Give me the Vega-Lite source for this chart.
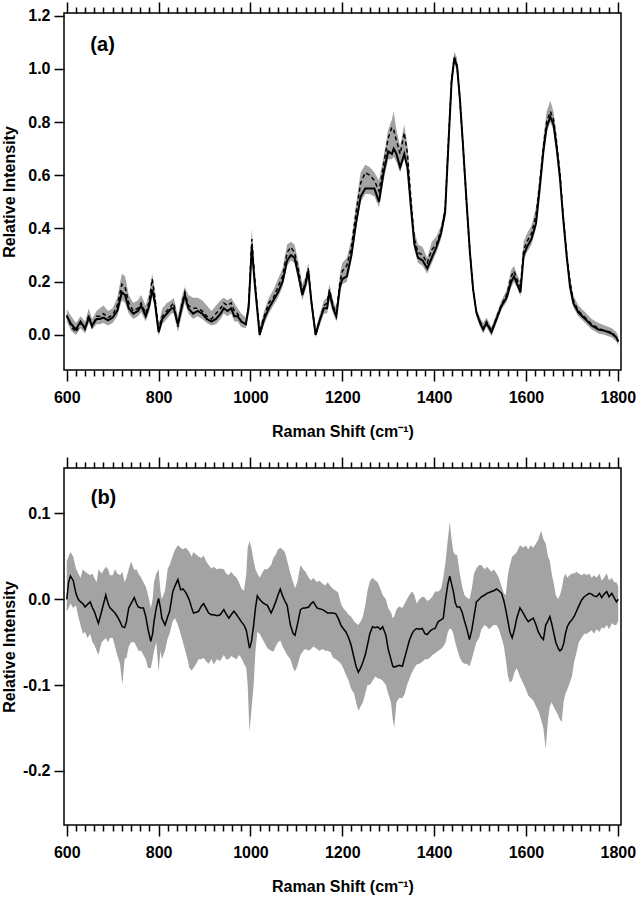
{
  "$schema": "https://vega.github.io/schema/vega-lite/v6.json",
  "padding": {"left": 0, "top": 0, "right": 1, "bottom": 5},
  "bounds": "flush",
  "spacing": 98,
  "config": {
    "font": "Liberation Sans",
    "view": {"stroke": "black", "strokeWidth": 1.5},
    "axis": {
      "labelFont": "Liberation Sans", "labelFontSize": 16, "labelFontWeight": "bold", "labelColor": "black",
      "titleFont": "Liberation Sans", "titleFontSize": 16, "titleFontWeight": "bold", "titleColor": "black",
      "domain": false, "grid": false, "tickColor": "black", "tickWidth": 1.5
    }
  },
  "datasets": {
    "a": [
      {"x":600,"s":0.07,"d":0.075,"lo":0.05,"hi":0.095},
      {"x":610,"s":0.04,"d":0.03,"lo":0.015,"hi":0.07},
      {"x":620,"s":0.02,"d":0.01,"lo":0.0,"hi":0.045},
      {"x":630,"s":0.05,"d":0.045,"lo":0.025,"hi":0.07},
      {"x":640,"s":0.025,"d":0.02,"lo":0.005,"hi":0.05},
      {"x":648,"s":0.065,"d":0.075,"lo":0.045,"hi":0.1},
      {"x":655,"s":0.035,"d":0.03,"lo":0.02,"hi":0.06},
      {"x":665,"s":0.06,"d":0.07,"lo":0.04,"hi":0.09},
      {"x":672,"s":0.06,"d":0.07,"lo":0.04,"hi":0.1},
      {"x":680,"s":0.065,"d":0.08,"lo":0.045,"hi":0.11},
      {"x":690,"s":0.055,"d":0.065,"lo":0.035,"hi":0.09},
      {"x":700,"s":0.065,"d":0.075,"lo":0.045,"hi":0.1},
      {"x":710,"s":0.09,"d":0.11,"lo":0.07,"hi":0.14},
      {"x":720,"s":0.16,"d":0.19,"lo":0.13,"hi":0.23},
      {"x":727,"s":0.15,"d":0.18,"lo":0.12,"hi":0.22},
      {"x":735,"s":0.1,"d":0.12,"lo":0.08,"hi":0.15},
      {"x":745,"s":0.08,"d":0.09,"lo":0.06,"hi":0.12},
      {"x":755,"s":0.09,"d":0.1,"lo":0.07,"hi":0.13},
      {"x":762,"s":0.11,"d":0.12,"lo":0.085,"hi":0.15},
      {"x":772,"s":0.07,"d":0.08,"lo":0.05,"hi":0.11},
      {"x":780,"s":0.11,"d":0.13,"lo":0.09,"hi":0.16},
      {"x":786,"s":0.17,"d":0.21,"lo":0.15,"hi":0.23},
      {"x":792,"s":0.12,"d":0.14,"lo":0.1,"hi":0.17},
      {"x":800,"s":0.01,"d":0.02,"lo":-0.005,"hi":0.04},
      {"x":808,"s":0.06,"d":0.07,"lo":0.04,"hi":0.1},
      {"x":818,"s":0.08,"d":0.09,"lo":0.06,"hi":0.12},
      {"x":828,"s":0.1,"d":0.11,"lo":0.08,"hi":0.13},
      {"x":833,"s":0.1,"d":0.12,"lo":0.08,"hi":0.14},
      {"x":842,"s":0.04,"d":0.03,"lo":0.01,"hi":0.07},
      {"x":850,"s":0.1,"d":0.11,"lo":0.07,"hi":0.14},
      {"x":857,"s":0.15,"d":0.16,"lo":0.12,"hi":0.18},
      {"x":865,"s":0.1,"d":0.11,"lo":0.08,"hi":0.15},
      {"x":875,"s":0.08,"d":0.1,"lo":0.06,"hi":0.14},
      {"x":885,"s":0.09,"d":0.1,"lo":0.07,"hi":0.14},
      {"x":895,"s":0.08,"d":0.09,"lo":0.06,"hi":0.13},
      {"x":905,"s":0.06,"d":0.07,"lo":0.045,"hi":0.11},
      {"x":915,"s":0.05,"d":0.06,"lo":0.035,"hi":0.09},
      {"x":925,"s":0.06,"d":0.08,"lo":0.04,"hi":0.11},
      {"x":935,"s":0.08,"d":0.1,"lo":0.06,"hi":0.13},
      {"x":942,"s":0.1,"d":0.12,"lo":0.08,"hi":0.14},
      {"x":950,"s":0.09,"d":0.11,"lo":0.07,"hi":0.13},
      {"x":958,"s":0.1,"d":0.12,"lo":0.08,"hi":0.14},
      {"x":965,"s":0.07,"d":0.09,"lo":0.05,"hi":0.12},
      {"x":972,"s":0.07,"d":0.08,"lo":0.05,"hi":0.1},
      {"x":980,"s":0.05,"d":0.05,"lo":0.03,"hi":0.08},
      {"x":990,"s":0.04,"d":0.04,"lo":0.025,"hi":0.065},
      {"x":996,"s":0.1,"d":0.11,"lo":0.08,"hi":0.14},
      {"x":1003,"s":0.33,"d":0.36,"lo":0.3,"hi":0.4},
      {"x":1009,"s":0.2,"d":0.22,"lo":0.17,"hi":0.25},
      {"x":1020,"s":0.0,"d":0.01,"lo":-0.01,"hi":0.03},
      {"x":1030,"s":0.06,"d":0.07,"lo":0.04,"hi":0.09},
      {"x":1040,"s":0.1,"d":0.12,"lo":0.08,"hi":0.14},
      {"x":1050,"s":0.13,"d":0.14,"lo":0.11,"hi":0.17},
      {"x":1060,"s":0.16,"d":0.18,"lo":0.14,"hi":0.21},
      {"x":1070,"s":0.2,"d":0.22,"lo":0.18,"hi":0.25},
      {"x":1080,"s":0.28,"d":0.31,"lo":0.26,"hi":0.34},
      {"x":1088,"s":0.3,"d":0.33,"lo":0.28,"hi":0.35},
      {"x":1096,"s":0.29,"d":0.31,"lo":0.27,"hi":0.34},
      {"x":1105,"s":0.22,"d":0.24,"lo":0.2,"hi":0.27},
      {"x":1113,"s":0.15,"d":0.16,"lo":0.13,"hi":0.19},
      {"x":1120,"s":0.19,"d":0.2,"lo":0.17,"hi":0.22},
      {"x":1126,"s":0.24,"d":0.25,"lo":0.21,"hi":0.27},
      {"x":1133,"s":0.12,"d":0.12,"lo":0.1,"hi":0.15},
      {"x":1142,"s":0.0,"d":0.0,"lo":-0.01,"hi":0.02},
      {"x":1150,"s":0.05,"d":0.05,"lo":0.03,"hi":0.07},
      {"x":1160,"s":0.1,"d":0.11,"lo":0.08,"hi":0.13},
      {"x":1167,"s":0.1,"d":0.12,"lo":0.08,"hi":0.14},
      {"x":1172,"s":0.16,"d":0.17,"lo":0.13,"hi":0.19},
      {"x":1180,"s":0.1,"d":0.11,"lo":0.08,"hi":0.13},
      {"x":1187,"s":0.07,"d":0.08,"lo":0.05,"hi":0.1},
      {"x":1195,"s":0.18,"d":0.2,"lo":0.16,"hi":0.23},
      {"x":1200,"s":0.21,"d":0.24,"lo":0.19,"hi":0.27},
      {"x":1210,"s":0.22,"d":0.26,"lo":0.2,"hi":0.29},
      {"x":1220,"s":0.3,"d":0.33,"lo":0.28,"hi":0.36},
      {"x":1230,"s":0.42,"d":0.46,"lo":0.4,"hi":0.49},
      {"x":1240,"s":0.52,"d":0.57,"lo":0.5,"hi":0.61},
      {"x":1250,"s":0.55,"d":0.61,"lo":0.53,"hi":0.64},
      {"x":1260,"s":0.55,"d":0.6,"lo":0.53,"hi":0.63},
      {"x":1270,"s":0.55,"d":0.58,"lo":0.52,"hi":0.61},
      {"x":1280,"s":0.5,"d":0.54,"lo":0.48,"hi":0.58},
      {"x":1290,"s":0.61,"d":0.64,"lo":0.58,"hi":0.67},
      {"x":1300,"s":0.69,"d":0.74,"lo":0.66,"hi":0.77},
      {"x":1308,"s":0.68,"d":0.78,"lo":0.66,"hi":0.81},
      {"x":1312,"s":0.7,"d":0.77,"lo":0.67,"hi":0.84},
      {"x":1318,"s":0.68,"d":0.73,"lo":0.65,"hi":0.77},
      {"x":1326,"s":0.63,"d":0.68,"lo":0.61,"hi":0.71},
      {"x":1335,"s":0.68,"d":0.76,"lo":0.66,"hi":0.79},
      {"x":1342,"s":0.63,"d":0.68,"lo":0.61,"hi":0.71},
      {"x":1350,"s":0.47,"d":0.5,"lo":0.45,"hi":0.53},
      {"x":1357,"s":0.34,"d":0.36,"lo":0.32,"hi":0.39},
      {"x":1365,"s":0.29,"d":0.31,"lo":0.27,"hi":0.34},
      {"x":1375,"s":0.28,"d":0.3,"lo":0.26,"hi":0.33},
      {"x":1385,"s":0.25,"d":0.27,"lo":0.23,"hi":0.29},
      {"x":1395,"s":0.29,"d":0.32,"lo":0.27,"hi":0.35},
      {"x":1405,"s":0.33,"d":0.34,"lo":0.31,"hi":0.37},
      {"x":1415,"s":0.38,"d":0.39,"lo":0.36,"hi":0.41},
      {"x":1424,"s":0.46,"d":0.47,"lo":0.44,"hi":0.49},
      {"x":1431,"s":0.71,"d":0.72,"lo":0.69,"hi":0.74},
      {"x":1438,"s":0.95,"d":0.96,"lo":0.93,"hi":0.98},
      {"x":1444,"s":1.04,"d":1.045,"lo":1.02,"hi":1.065},
      {"x":1450,"s":1.01,"d":1.01,"lo":0.99,"hi":1.04},
      {"x":1456,"s":0.89,"d":0.89,"lo":0.87,"hi":0.91},
      {"x":1463,"s":0.71,"d":0.71,"lo":0.69,"hi":0.73},
      {"x":1471,"s":0.49,"d":0.49,"lo":0.47,"hi":0.51},
      {"x":1478,"s":0.31,"d":0.31,"lo":0.29,"hi":0.33},
      {"x":1485,"s":0.17,"d":0.17,"lo":0.155,"hi":0.19},
      {"x":1492,"s":0.085,"d":0.085,"lo":0.07,"hi":0.1},
      {"x":1500,"s":0.045,"d":0.05,"lo":0.03,"hi":0.065},
      {"x":1507,"s":0.02,"d":0.025,"lo":0.005,"hi":0.045},
      {"x":1514,"s":0.045,"d":0.05,"lo":0.03,"hi":0.065},
      {"x":1525,"s":0.01,"d":0.015,"lo":-0.005,"hi":0.03},
      {"x":1536,"s":0.06,"d":0.065,"lo":0.045,"hi":0.08},
      {"x":1547,"s":0.11,"d":0.115,"lo":0.095,"hi":0.13},
      {"x":1558,"s":0.14,"d":0.15,"lo":0.125,"hi":0.17},
      {"x":1568,"s":0.2,"d":0.22,"lo":0.18,"hi":0.245},
      {"x":1574,"s":0.22,"d":0.24,"lo":0.2,"hi":0.26},
      {"x":1580,"s":0.195,"d":0.21,"lo":0.18,"hi":0.23},
      {"x":1588,"s":0.16,"d":0.18,"lo":0.145,"hi":0.2},
      {"x":1595,"s":0.3,"d":0.32,"lo":0.28,"hi":0.35},
      {"x":1602,"s":0.33,"d":0.35,"lo":0.31,"hi":0.38},
      {"x":1612,"s":0.36,"d":0.38,"lo":0.34,"hi":0.41},
      {"x":1622,"s":0.42,"d":0.45,"lo":0.4,"hi":0.48},
      {"x":1630,"s":0.55,"d":0.57,"lo":0.53,"hi":0.6},
      {"x":1638,"s":0.69,"d":0.71,"lo":0.67,"hi":0.74},
      {"x":1645,"s":0.78,"d":0.8,"lo":0.76,"hi":0.84},
      {"x":1653,"s":0.82,"d":0.84,"lo":0.8,"hi":0.88},
      {"x":1660,"s":0.79,"d":0.81,"lo":0.77,"hi":0.84},
      {"x":1667,"s":0.7,"d":0.72,"lo":0.68,"hi":0.75},
      {"x":1674,"s":0.59,"d":0.61,"lo":0.57,"hi":0.63},
      {"x":1681,"s":0.44,"d":0.45,"lo":0.42,"hi":0.47},
      {"x":1689,"s":0.29,"d":0.3,"lo":0.27,"hi":0.32},
      {"x":1696,"s":0.18,"d":0.2,"lo":0.17,"hi":0.22},
      {"x":1703,"s":0.12,"d":0.13,"lo":0.105,"hi":0.15},
      {"x":1714,"s":0.085,"d":0.09,"lo":0.07,"hi":0.11},
      {"x":1729,"s":0.06,"d":0.065,"lo":0.045,"hi":0.085},
      {"x":1743,"s":0.035,"d":0.04,"lo":0.02,"hi":0.06},
      {"x":1758,"s":0.02,"d":0.025,"lo":0.005,"hi":0.045},
      {"x":1772,"s":0.015,"d":0.015,"lo":0.0,"hi":0.035},
      {"x":1787,"s":0.005,"d":0.01,"lo":-0.01,"hi":0.025},
      {"x":1797,"s":-0.01,"d":-0.01,"lo":-0.025,"hi":0.01},
      {"x":1801,"s":-0.025,"d":-0.025,"lo":-0.04,"hi":-0.005}
    ],
    "b": [
      {"x":600,"m":0.0,"lo":-0.014,"hi":0.044},
      {"x":604,"m":0.02,"lo":-0.01,"hi":0.05},
      {"x":608,"m":0.027,"lo":-0.005,"hi":0.055},
      {"x":614,"m":0.022,"lo":-0.01,"hi":0.05},
      {"x":620,"m":0.007,"lo":-0.007,"hi":0.036},
      {"x":625,"m":0.0,"lo":-0.02,"hi":0.03},
      {"x":630,"m":-0.003,"lo":-0.03,"hi":0.025},
      {"x":635,"m":-0.005,"lo":-0.04,"hi":0.035},
      {"x":640,"m":-0.009,"lo":-0.038,"hi":0.032},
      {"x":645,"m":-0.006,"lo":-0.045,"hi":0.03},
      {"x":651,"m":-0.003,"lo":-0.04,"hi":0.028},
      {"x":656,"m":-0.01,"lo":-0.05,"hi":0.03},
      {"x":660,"m":-0.014,"lo":-0.053,"hi":0.025},
      {"x":665,"m":-0.022,"lo":-0.06,"hi":0.02},
      {"x":669,"m":-0.028,"lo":-0.065,"hi":0.035},
      {"x":676,"m":-0.014,"lo":-0.05,"hi":0.03},
      {"x":685,"m":0.005,"lo":-0.045,"hi":0.038},
      {"x":690,"m":-0.005,"lo":-0.05,"hi":0.035},
      {"x":694,"m":-0.01,"lo":-0.045,"hi":0.028},
      {"x":700,"m":-0.013,"lo":-0.045,"hi":0.028},
      {"x":705,"m":-0.016,"lo":-0.055,"hi":0.035},
      {"x":710,"m":-0.02,"lo":-0.065,"hi":0.03},
      {"x":716,"m":-0.026,"lo":-0.075,"hi":0.028},
      {"x":721,"m":-0.032,"lo":-0.1,"hi":0.032},
      {"x":726,"m":-0.033,"lo":-0.07,"hi":0.02},
      {"x":730,"m":-0.026,"lo":-0.068,"hi":0.025},
      {"x":735,"m":-0.01,"lo":-0.055,"hi":0.035},
      {"x":740,"m":-0.005,"lo":-0.05,"hi":0.044},
      {"x":747,"m":0.002,"lo":-0.05,"hi":0.034},
      {"x":752,"m":-0.005,"lo":-0.055,"hi":0.035},
      {"x":756,"m":-0.009,"lo":-0.06,"hi":0.03},
      {"x":762,"m":-0.01,"lo":-0.06,"hi":0.025},
      {"x":767,"m":-0.01,"lo":-0.065,"hi":0.02},
      {"x":772,"m":-0.02,"lo":-0.07,"hi":0.015},
      {"x":777,"m":-0.035,"lo":-0.08,"hi":0.005},
      {"x":783,"m":-0.049,"lo":-0.08,"hi":-0.01},
      {"x":787,"m":-0.04,"lo":-0.07,"hi":0.0},
      {"x":790,"m":-0.026,"lo":-0.06,"hi":0.02},
      {"x":795,"m":-0.01,"lo":-0.05,"hi":0.03},
      {"x":800,"m":0.001,"lo":-0.085,"hi":0.035},
      {"x":804,"m":-0.01,"lo":-0.06,"hi":0.01},
      {"x":807,"m":-0.022,"lo":-0.07,"hi":0.0},
      {"x":814,"m":-0.03,"lo":-0.06,"hi":0.01},
      {"x":820,"m":-0.02,"lo":-0.045,"hi":0.036},
      {"x":824,"m":-0.014,"lo":-0.04,"hi":0.04},
      {"x":831,"m":0.009,"lo":-0.025,"hi":0.051},
      {"x":836,"m":0.016,"lo":-0.022,"hi":0.058},
      {"x":842,"m":0.023,"lo":-0.03,"hi":0.063},
      {"x":848,"m":0.011,"lo":-0.04,"hi":0.06},
      {"x":853,"m":0.012,"lo":-0.05,"hi":0.058},
      {"x":858,"m":0.009,"lo":-0.06,"hi":0.06},
      {"x":863,"m":0.004,"lo":-0.07,"hi":0.058},
      {"x":867,"m":-0.001,"lo":-0.08,"hi":0.055},
      {"x":872,"m":-0.01,"lo":-0.083,"hi":0.05},
      {"x":876,"m":-0.016,"lo":-0.08,"hi":0.055},
      {"x":882,"m":-0.015,"lo":-0.075,"hi":0.052},
      {"x":887,"m":-0.014,"lo":-0.07,"hi":0.05},
      {"x":893,"m":-0.008,"lo":-0.07,"hi":0.048},
      {"x":898,"m":-0.005,"lo":-0.068,"hi":0.051},
      {"x":903,"m":-0.01,"lo":-0.072,"hi":0.045},
      {"x":909,"m":-0.016,"lo":-0.075,"hi":0.04},
      {"x":915,"m":-0.018,"lo":-0.07,"hi":0.036},
      {"x":920,"m":-0.018,"lo":-0.076,"hi":0.038},
      {"x":927,"m":-0.019,"lo":-0.07,"hi":0.035},
      {"x":934,"m":-0.018,"lo":-0.072,"hi":0.036},
      {"x":942,"m":-0.012,"lo":-0.065,"hi":0.035},
      {"x":947,"m":-0.017,"lo":-0.07,"hi":0.03},
      {"x":953,"m":-0.022,"lo":-0.07,"hi":0.028},
      {"x":958,"m":-0.018,"lo":-0.066,"hi":0.032},
      {"x":964,"m":-0.014,"lo":-0.068,"hi":0.028},
      {"x":970,"m":-0.018,"lo":-0.07,"hi":0.025},
      {"x":975,"m":-0.022,"lo":-0.065,"hi":0.02},
      {"x":980,"m":-0.026,"lo":-0.068,"hi":0.013},
      {"x":986,"m":-0.03,"lo":-0.075,"hi":0.01},
      {"x":991,"m":-0.036,"lo":-0.08,"hi":0.03},
      {"x":994,"m":-0.045,"lo":-0.1,"hi":0.06},
      {"x":998,"m":-0.057,"lo":-0.155,"hi":0.068},
      {"x":1002,"m":-0.05,"lo":-0.13,"hi":0.06},
      {"x":1007,"m":-0.03,"lo":-0.1,"hi":0.045},
      {"x":1011,"m":-0.01,"lo":-0.06,"hi":0.035},
      {"x":1015,"m":0.004,"lo":-0.038,"hi":0.03},
      {"x":1020,"m":0.0,"lo":-0.04,"hi":0.025},
      {"x":1025,"m":-0.003,"lo":-0.045,"hi":0.03},
      {"x":1030,"m":-0.005,"lo":-0.05,"hi":0.035},
      {"x":1037,"m":-0.007,"lo":-0.057,"hi":0.035},
      {"x":1045,"m":-0.016,"lo":-0.06,"hi":0.04},
      {"x":1050,"m":-0.01,"lo":-0.061,"hi":0.048},
      {"x":1055,"m":-0.003,"lo":-0.055,"hi":0.052},
      {"x":1060,"m":0.005,"lo":-0.05,"hi":0.058},
      {"x":1065,"m":0.012,"lo":-0.048,"hi":0.06},
      {"x":1070,"m":0.004,"lo":-0.055,"hi":0.058},
      {"x":1075,"m":-0.002,"lo":-0.06,"hi":0.055},
      {"x":1080,"m":-0.007,"lo":-0.065,"hi":0.045},
      {"x":1087,"m":-0.03,"lo":-0.07,"hi":0.03},
      {"x":1093,"m":-0.04,"lo":-0.08,"hi":0.02},
      {"x":1097,"m":-0.042,"lo":-0.084,"hi":0.013},
      {"x":1102,"m":-0.03,"lo":-0.078,"hi":0.02},
      {"x":1109,"m":-0.012,"lo":-0.065,"hi":0.04},
      {"x":1115,"m":-0.01,"lo":-0.06,"hi":0.035},
      {"x":1120,"m":-0.01,"lo":-0.058,"hi":0.032},
      {"x":1127,"m":-0.009,"lo":-0.06,"hi":0.025},
      {"x":1132,"m":-0.005,"lo":-0.058,"hi":0.022},
      {"x":1137,"m":-0.003,"lo":-0.055,"hi":0.025},
      {"x":1145,"m":-0.01,"lo":-0.058,"hi":0.02},
      {"x":1150,"m":-0.011,"lo":-0.06,"hi":0.022},
      {"x":1157,"m":-0.012,"lo":-0.058,"hi":0.018},
      {"x":1163,"m":-0.014,"lo":-0.06,"hi":0.016},
      {"x":1168,"m":-0.016,"lo":-0.06,"hi":0.02},
      {"x":1175,"m":-0.016,"lo":-0.062,"hi":0.015},
      {"x":1180,"m":-0.016,"lo":-0.068,"hi":0.012},
      {"x":1186,"m":-0.017,"lo":-0.07,"hi":0.01},
      {"x":1191,"m":-0.022,"lo":-0.072,"hi":0.008},
      {"x":1197,"m":-0.03,"lo":-0.075,"hi":-0.005},
      {"x":1202,"m":-0.034,"lo":-0.08,"hi":-0.01},
      {"x":1208,"m":-0.038,"lo":-0.088,"hi":-0.014},
      {"x":1214,"m":-0.045,"lo":-0.095,"hi":-0.018},
      {"x":1219,"m":-0.053,"lo":-0.104,"hi":-0.02},
      {"x":1226,"m":-0.069,"lo":-0.11,"hi":-0.026},
      {"x":1230,"m":-0.078,"lo":-0.12,"hi":-0.028},
      {"x":1235,"m":-0.085,"lo":-0.13,"hi":-0.03},
      {"x":1240,"m":-0.08,"lo":-0.125,"hi":-0.026},
      {"x":1245,"m":-0.073,"lo":-0.12,"hi":-0.02},
      {"x":1250,"m":-0.065,"lo":-0.11,"hi":-0.007},
      {"x":1255,"m":-0.053,"lo":-0.1,"hi":0.01},
      {"x":1260,"m":-0.04,"lo":-0.1,"hi":0.021},
      {"x":1266,"m":-0.032,"lo":-0.095,"hi":0.025},
      {"x":1272,"m":-0.033,"lo":-0.09,"hi":0.022},
      {"x":1277,"m":-0.032,"lo":-0.092,"hi":0.02},
      {"x":1283,"m":-0.035,"lo":-0.093,"hi":0.012},
      {"x":1288,"m":-0.032,"lo":-0.095,"hi":0.005},
      {"x":1295,"m":-0.042,"lo":-0.1,"hi":0.0},
      {"x":1300,"m":-0.058,"lo":-0.11,"hi":-0.01},
      {"x":1306,"m":-0.07,"lo":-0.12,"hi":-0.015},
      {"x":1310,"m":-0.078,"lo":-0.14,"hi":-0.022},
      {"x":1313,"m":-0.079,"lo":-0.15,"hi":-0.02},
      {"x":1318,"m":-0.078,"lo":-0.12,"hi":-0.012},
      {"x":1324,"m":-0.077,"lo":-0.115,"hi":-0.008},
      {"x":1331,"m":-0.078,"lo":-0.115,"hi":-0.01},
      {"x":1336,"m":-0.068,"lo":-0.11,"hi":-0.005},
      {"x":1341,"m":-0.058,"lo":-0.1,"hi":0.0},
      {"x":1346,"m":-0.048,"lo":-0.093,"hi":0.005},
      {"x":1352,"m":-0.04,"lo":-0.085,"hi":0.009},
      {"x":1357,"m":-0.036,"lo":-0.08,"hi":0.005},
      {"x":1362,"m":-0.034,"lo":-0.076,"hi":-0.005},
      {"x":1368,"m":-0.035,"lo":-0.075,"hi":0.0},
      {"x":1374,"m":-0.034,"lo":-0.073,"hi":0.003},
      {"x":1380,"m":-0.04,"lo":-0.07,"hi":0.002},
      {"x":1385,"m":-0.041,"lo":-0.07,"hi":-0.002},
      {"x":1391,"m":-0.037,"lo":-0.068,"hi":0.0},
      {"x":1396,"m":-0.035,"lo":-0.065,"hi":0.003},
      {"x":1402,"m":-0.034,"lo":-0.063,"hi":0.009},
      {"x":1409,"m":-0.026,"lo":-0.06,"hi":0.009},
      {"x":1415,"m":-0.024,"lo":-0.058,"hi":0.012},
      {"x":1420,"m":-0.022,"lo":-0.055,"hi":0.025},
      {"x":1425,"m":0.0,"lo":-0.05,"hi":0.044},
      {"x":1430,"m":0.018,"lo":-0.038,"hi":0.07},
      {"x":1434,"m":0.027,"lo":-0.034,"hi":0.09},
      {"x":1438,"m":0.018,"lo":-0.035,"hi":0.07},
      {"x":1442,"m":0.009,"lo":-0.04,"hi":0.055},
      {"x":1446,"m":-0.004,"lo":-0.05,"hi":0.052},
      {"x":1450,"m":-0.009,"lo":-0.058,"hi":0.052},
      {"x":1456,"m":-0.009,"lo":-0.068,"hi":0.03},
      {"x":1461,"m":-0.015,"lo":-0.073,"hi":0.015},
      {"x":1466,"m":-0.025,"lo":-0.075,"hi":0.005},
      {"x":1471,"m":-0.034,"lo":-0.075,"hi":0.002},
      {"x":1477,"m":-0.047,"lo":-0.078,"hi":0.0},
      {"x":1482,"m":-0.036,"lo":-0.07,"hi":0.012},
      {"x":1487,"m":-0.02,"lo":-0.06,"hi":0.03},
      {"x":1492,"m":-0.003,"lo":-0.05,"hi":0.036},
      {"x":1498,"m":0.0,"lo":-0.045,"hi":0.04},
      {"x":1503,"m":0.003,"lo":-0.035,"hi":0.04},
      {"x":1510,"m":0.005,"lo":-0.03,"hi":0.035},
      {"x":1515,"m":0.007,"lo":-0.032,"hi":0.038},
      {"x":1520,"m":0.008,"lo":-0.035,"hi":0.035},
      {"x":1525,"m":0.009,"lo":-0.032,"hi":0.032},
      {"x":1530,"m":0.01,"lo":-0.03,"hi":0.035},
      {"x":1536,"m":0.012,"lo":-0.03,"hi":0.03},
      {"x":1541,"m":0.01,"lo":-0.035,"hi":0.025},
      {"x":1547,"m":0.007,"lo":-0.045,"hi":0.015},
      {"x":1552,"m":-0.002,"lo":-0.055,"hi":0.007},
      {"x":1556,"m":-0.012,"lo":-0.07,"hi":0.005},
      {"x":1561,"m":-0.026,"lo":-0.09,"hi":0.03},
      {"x":1565,"m":-0.038,"lo":-0.097,"hi":0.04},
      {"x":1570,"m":-0.045,"lo":-0.095,"hi":0.05},
      {"x":1575,"m":-0.035,"lo":-0.085,"hi":0.052},
      {"x":1580,"m":-0.022,"lo":-0.08,"hi":0.055},
      {"x":1587,"m":-0.01,"lo":-0.09,"hi":0.063},
      {"x":1594,"m":-0.016,"lo":-0.098,"hi":0.06},
      {"x":1600,"m":-0.022,"lo":-0.105,"hi":0.063},
      {"x":1605,"m":-0.026,"lo":-0.112,"hi":0.058},
      {"x":1610,"m":-0.024,"lo":-0.115,"hi":0.063},
      {"x":1616,"m":-0.022,"lo":-0.118,"hi":0.06},
      {"x":1622,"m":-0.03,"lo":-0.125,"hi":0.065},
      {"x":1627,"m":-0.038,"lo":-0.13,"hi":0.07},
      {"x":1633,"m":-0.044,"lo":-0.14,"hi":0.08},
      {"x":1638,"m":-0.047,"lo":-0.15,"hi":0.07},
      {"x":1643,"m":-0.03,"lo":-0.175,"hi":0.065},
      {"x":1648,"m":-0.025,"lo":-0.14,"hi":0.05},
      {"x":1652,"m":-0.02,"lo":-0.125,"hi":0.045},
      {"x":1656,"m":-0.028,"lo":-0.12,"hi":0.03},
      {"x":1660,"m":-0.038,"lo":-0.125,"hi":0.02},
      {"x":1665,"m":-0.05,"lo":-0.13,"hi":0.005},
      {"x":1670,"m":-0.057,"lo":-0.135,"hi":0.0},
      {"x":1674,"m":-0.06,"lo":-0.14,"hi":0.005},
      {"x":1678,"m":-0.058,"lo":-0.143,"hi":0.012},
      {"x":1682,"m":-0.052,"lo":-0.12,"hi":0.025},
      {"x":1686,"m":-0.04,"lo":-0.11,"hi":0.03},
      {"x":1690,"m":-0.032,"lo":-0.105,"hi":0.025},
      {"x":1695,"m":-0.027,"lo":-0.098,"hi":0.028},
      {"x":1700,"m":-0.024,"lo":-0.09,"hi":0.03},
      {"x":1705,"m":-0.02,"lo":-0.073,"hi":0.03},
      {"x":1710,"m":-0.014,"lo":-0.062,"hi":0.032},
      {"x":1715,"m":-0.008,"lo":-0.05,"hi":0.03},
      {"x":1721,"m":-0.001,"lo":-0.045,"hi":0.028},
      {"x":1727,"m":0.003,"lo":-0.04,"hi":0.03},
      {"x":1732,"m":0.005,"lo":-0.04,"hi":0.028},
      {"x":1738,"m":0.007,"lo":-0.038,"hi":0.03},
      {"x":1743,"m":0.006,"lo":-0.036,"hi":0.025},
      {"x":1748,"m":0.004,"lo":-0.04,"hi":0.028},
      {"x":1754,"m":0.003,"lo":-0.035,"hi":0.025},
      {"x":1760,"m":0.007,"lo":-0.038,"hi":0.03},
      {"x":1765,"m":0.002,"lo":-0.033,"hi":0.022},
      {"x":1770,"m":0.006,"lo":-0.034,"hi":0.025},
      {"x":1776,"m":0.009,"lo":-0.03,"hi":0.03},
      {"x":1781,"m":0.003,"lo":-0.035,"hi":0.022},
      {"x":1787,"m":0.007,"lo":-0.028,"hi":0.025},
      {"x":1792,"m":0.002,"lo":-0.03,"hi":0.02},
      {"x":1797,"m":-0.003,"lo":-0.03,"hi":0.02},
      {"x":1801,"m":0.0,"lo":-0.025,"hi":0.015}
    ],
    "la": [{"t":"(a)","x":678,"y":1.09}],
    "lb": [{"t":"(b)","x":680,"y":0.118}]
  },
  "vconcat": [
    {
      "width": 557, "height": 357,
      "resolve": {"axis": {"x": "independent"}},
      "layer": [
        {
          "data": {"name": "a"},
          "mark": {"type": "area", "color": "#a3a3a3"},
          "encoding": {
            "x": {"field": "x", "type": "quantitative", "scale": {"domain": [594, 1807], "nice": false, "zero": false},
              "title": "Raman Shift (cm⁻¹)",
              "axis": {"orient": "bottom", "values": [600,620,640,660,680,700,720,740,760,780,800,820,840,860,880,900,920,940,960,980,1000,1020,1040,1060,1080,1100,1120,1140,1160,1180,1200,1220,1240,1260,1280,1300,1320,1340,1360,1380,1400,1420,1440,1460,1480,1500,1520,1540,1560,1580,1600,1620,1640,1660,1680,1700,1720,1740,1760,1780,1800],
                "format": "d", "labelExpr": "datum.value % 200 === 0 ? datum.label : ''",
                "tickSize": {"condition": {"test": "datum.value % 200 === 0", "value": 11}, "value": 6},
                "labelPadding": 8, "titlePadding": 18, "labelFlush": false, "labelOverlap": false}},
            "y": {"field": "lo", "type": "quantitative", "scale": {"domain": [-0.132, 1.21], "nice": false, "zero": false},
              "title": "Relative Intensity",
              "axis": {"values": [0, 0.2, 0.4, 0.6, 0.8, 1, 1.2], "format": ".1f", "tickSize": 10, "labelPadding": 4, "titlePadding": 10}},
            "y2": {"field": "hi"}
          }
        },
        {
          "data": {"name": "a"},
          "mark": {"type": "line", "color": "black", "strokeWidth": 1.5, "strokeDash": [4, 3]},
          "encoding": {
            "x": {"field": "x", "type": "quantitative",
              "axis": {"orient": "top", "values": [600,620,640,660,680,700,720,740,760,780,800,820,840,860,880,900,920,940,960,980,1000,1020,1040,1060,1080,1100,1120,1140,1160,1180,1200,1220,1240,1260,1280,1300,1320,1340,1360,1380,1400,1420,1440,1460,1480,1500,1520,1540,1560,1580,1600,1620,1640,1660,1680,1700,1720,1740,1760,1780,1800],
                "labels": false, "title": null,
                "tickSize": {"condition": {"test": "datum.value % 200 === 0", "value": 11}, "value": 6}}},
            "y": {"field": "d", "type": "quantitative", "title": "Relative Intensity"}
          }
        },
        {
          "data": {"name": "a"},
          "mark": {"type": "line", "color": "black", "strokeWidth": 2},
          "encoding": {
            "x": {"field": "x", "type": "quantitative", "axis": null},
            "y": {"field": "s", "type": "quantitative", "title": "Relative Intensity"}
          }
        },
        {
          "data": {"name": "la"},
          "mark": {"type": "text", "fontSize": 20, "fontWeight": "bold", "font": "Liberation Sans", "color": "black", "align": "center", "baseline": "middle"},
          "encoding": {
            "x": {"field": "x", "type": "quantitative", "axis": null},
            "y": {"field": "y", "type": "quantitative", "title": "Relative Intensity"},
            "text": {"field": "t"}
          }
        }
      ]
    },
    {
      "width": 557, "height": 357,
      "resolve": {"axis": {"x": "independent"}},
      "layer": [
        {
          "data": {"name": "b"},
          "mark": {"type": "area", "color": "#a3a3a3"},
          "encoding": {
            "x": {"field": "x", "type": "quantitative", "scale": {"domain": [594, 1807], "nice": false, "zero": false},
              "title": "Raman Shift (cm⁻¹)",
              "axis": {"orient": "bottom", "values": [600,620,640,660,680,700,720,740,760,780,800,820,840,860,880,900,920,940,960,980,1000,1020,1040,1060,1080,1100,1120,1140,1160,1180,1200,1220,1240,1260,1280,1300,1320,1340,1360,1380,1400,1420,1440,1460,1480,1500,1520,1540,1560,1580,1600,1620,1640,1660,1680,1700,1720,1740,1760,1780,1800],
                "format": "d", "labelExpr": "datum.value % 200 === 0 ? datum.label : ''",
                "tickSize": {"condition": {"test": "datum.value % 200 === 0", "value": 11}, "value": 6},
                "labelPadding": 8, "titlePadding": 18, "labelFlush": false, "labelOverlap": false}},
            "y": {"field": "lo", "type": "quantitative", "scale": {"domain": [-0.263, 0.153], "nice": false, "zero": false},
              "title": "Relative Intensity",
              "axis": {"values": [-0.2, -0.1, 0, 0.1], "format": ".1f", "labelExpr": "replace(datum.label, '−', '-')", "tickSize": 10, "labelPadding": 4, "titlePadding": 5}},
            "y2": {"field": "hi"}
          }
        },
        {
          "data": {"name": "b"},
          "mark": {"type": "line", "color": "black", "strokeWidth": 1.5},
          "encoding": {
            "x": {"field": "x", "type": "quantitative",
              "axis": {"orient": "top", "values": [600,620,640,660,680,700,720,740,760,780,800,820,840,860,880,900,920,940,960,980,1000,1020,1040,1060,1080,1100,1120,1140,1160,1180,1200,1220,1240,1260,1280,1300,1320,1340,1360,1380,1400,1420,1440,1460,1480,1500,1520,1540,1560,1580,1600,1620,1640,1660,1680,1700,1720,1740,1760,1780,1800],
                "labels": false, "title": null,
                "tickSize": {"condition": {"test": "datum.value % 200 === 0", "value": 11}, "value": 6}}},
            "y": {"field": "m", "type": "quantitative", "title": "Relative Intensity"}
          }
        },
        {
          "mark": {"type": "rule", "color": "black", "strokeWidth": 2},
          "encoding": {
            "y": {"datum": 0, "type": "quantitative", "title": "Relative Intensity"}
          }
        },
        {
          "data": {"name": "lb"},
          "mark": {"type": "text", "fontSize": 20, "fontWeight": "bold", "font": "Liberation Sans", "color": "black", "align": "center", "baseline": "middle"},
          "encoding": {
            "x": {"field": "x", "type": "quantitative", "axis": null},
            "y": {"field": "y", "type": "quantitative", "title": "Relative Intensity"},
            "text": {"field": "t"}
          }
        }
      ]
    }
  ]
}
